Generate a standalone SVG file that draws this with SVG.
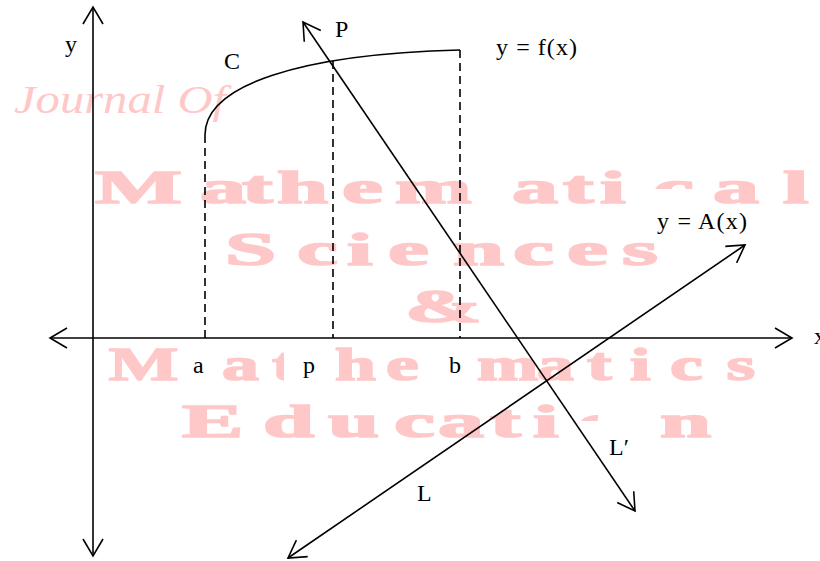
<svg xmlns="http://www.w3.org/2000/svg" width="820" height="561" viewBox="0 0 820 561">
<style>
.wm{fill:#ffc8c8;stroke:#ffc8c8;stroke-width:1.6;font-family:"Liberation Serif","Times New Roman",serif;font-weight:bold;font-size:46px}
.lbl{fill:#000;font-family:"Liberation Serif","Times New Roman",serif;font-size:24px}
.ln{stroke:#000;stroke-width:1.6;fill:none}
.dash{stroke:#000;stroke-width:1.6;fill:none;stroke-dasharray:8 5}
.mask{fill:#fff}
</style>
<defs>
<marker id="arr" viewBox="0 0 20 22" refX="18" refY="11" markerWidth="20" markerHeight="22" markerUnits="userSpaceOnUse" orient="auto-start-reverse">
<path d="M1,1 L18,11 L1,21" fill="none" stroke="#000" stroke-width="1.6"/>
</marker>
</defs>
<rect width="820" height="561" fill="#fff"/>
<g id="watermark">
<text x="14" y="113" textLength="212" lengthAdjust="spacingAndGlyphs" style="fill:#ffc8c8;font-family:'Liberation Serif',serif;font-style:italic;font-size:40px">Journal Of</text>
<g transform="scale(2,1)">
<text class="wm" y="203" x="47.5 100 121 138.5 171 197.5 256 281.5 300 326.5 356.5 391.5">Mathematical</text>
<text class="wm" y="265" x="112.5 148.5 173.5 194 226.5 256.5 283.5 311">Sciences</text>
<text class="wm" y="322" x="202.5">&amp;</text>
<text class="wm" y="437" x="91 131.5 164 197 219 245 266.5 289 330">Education</text>
</g>
<g transform="scale(1.6,1)">
<text class="wm" y="380" x="68">M</text>
<text class="wm" y="380" x="138.75 170">at</text>
<text class="wm" y="380" x="209.4 241.25">he</text>
<text class="wm" y="380" x="298.1 335.6 366.9 393.75 418.75 454">matics</text>
</g>
<rect class="mask" x="650" y="189" width="58" height="18"/>
<rect class="mask" x="284" y="343" width="49" height="42"/>
<rect class="mask" x="598" y="405" width="62" height="60"/>
<rect class="mask" x="572" y="421" width="30" height="20"/>
</g>
<g id="connectors">
<line id="y-axis" class="ln" x1="93" y1="556" x2="93" y2="7" marker-start="url(#arr)" marker-end="url(#arr)"/>
<line id="x-axis" class="ln" x1="50" y1="338" x2="792" y2="338" marker-start="url(#arr)" marker-end="url(#arr)"/>
<line id="line-Lprime" class="ln" x1="303" y1="22" x2="635" y2="511" marker-start="url(#arr)" marker-end="url(#arr)"/>
<line id="line-L" class="ln" x1="288" y1="558" x2="745" y2="245" marker-start="url(#arr)" marker-end="url(#arr)"/>
<path id="curve-C" class="ln" d="M205,135 C205,85 300,54 460,50"/>
<line class="dash" x1="205" y1="135" x2="205" y2="338"/>
<line class="dash" x1="333" y1="61" x2="333" y2="338"/>
<line class="dash" x1="460" y1="50" x2="460" y2="338"/>
</g>
<g id="labels">
<text class="lbl" x="65" y="52">y</text>
<text class="lbl" x="224" y="69">C</text>
<text class="lbl" x="335" y="37">P</text>
<text class="lbl" x="496" y="55" textLength="81" lengthAdjust="spacing">y = f(x)</text>
<text class="lbl" x="657" y="229" textLength="90" lengthAdjust="spacing">y = A(x)</text>
<text class="lbl" x="193" y="373">a</text>
<text class="lbl" x="303" y="373">p</text>
<text class="lbl" x="449" y="373">b</text>
<text class="lbl" x="814" y="344">x</text>
<text class="lbl" x="609" y="455">L′</text>
<text class="lbl" x="417" y="501">L</text>
</g>
</svg>
